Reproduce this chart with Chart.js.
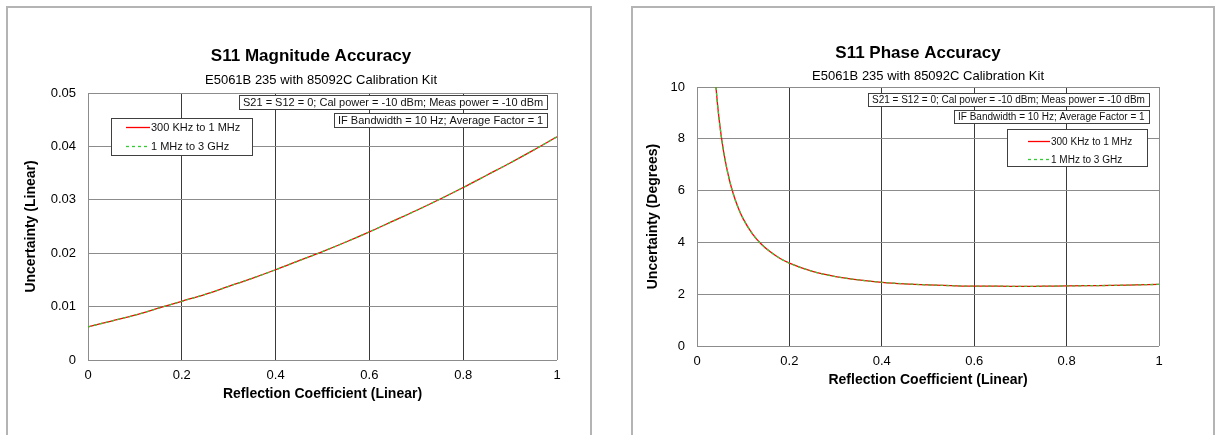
<!DOCTYPE html>
<html>
<head>
<meta charset="utf-8">
<script src="https://cdn.jsdelivr.net/npm/chart.js@4.4.0/dist/chart.umd.min.js"></script>
<style>
    body { margin: 0; background: #fff; overflow: hidden; width: 1217px; height: 435px; position: relative; }
    .panel { position: absolute; top: 6px; height: 440px; border: 2px solid #b4b4b4; box-sizing: border-box; }
    #p1 { left: 6px; width: 586px; }
    #p2 { left: 631px; width: 584px; }
    canvas { position: absolute; top: 0; }
    #chart1 { left: 0; }
    #chart2 { left: 610px; }
</style>
</head>
<body>
<div class="panel" id="p1"></div>
<div class="panel" id="p2"></div>
<canvas id="chart1" width="610" height="435" style="width:610px;height:435px"></canvas>
<canvas id="chart2" width="607" height="435" style="width:607px;height:435px"></canvas>
<script>
// values
const seriesLabels = ['300 KHz to 1 MHz', '1 MHz to 3 GHz'];
const xTicks = [0, 0.2, 0.4, 0.6, 0.8, 1];

const magX = [0, 0.05, 0.1, 0.15, 0.2, 0.25, 0.3, 0.35, 0.4, 0.45, 0.5,
              0.55, 0.6, 0.65, 0.7, 0.75, 0.8, 0.85, 0.9, 0.95, 1];
const magY = [0.0062, 0.0073, 0.0084, 0.0097, 0.0110, 0.0123, 0.0138, 0.0153, 0.0169, 0.0186, 0.0203,
              0.0221, 0.0240, 0.0260, 0.0280, 0.0301, 0.0323, 0.0346, 0.0369, 0.0393, 0.0418];
const magYTicks = [0, 0.01, 0.02, 0.03, 0.04, 0.05];

const phaseX = [0.041, 0.045, 0.05, 0.055, 0.06, 0.07, 0.08, 0.09, 0.1, 0.12, 0.14, 0.16, 0.18, 0.2,
                0.25, 0.3, 0.35, 0.4, 0.45, 0.5, 0.55, 0.6, 0.65, 0.7, 0.75, 0.8, 0.85, 0.9, 0.95, 1];
const phaseY = [10.0, 9.23, 8.44, 7.8, 7.26, 6.42, 5.79, 5.30, 4.91, 4.33, 3.92, 3.62, 3.38, 3.2,
                2.88, 2.68, 2.55, 2.46, 2.40, 2.36, 2.33, 2.31, 2.31, 2.30, 2.31, 2.32, 2.33, 2.34, 2.36, 2.38];
const phaseYTicks = [0, 2, 4, 6, 8, 10];

const subtitleText = 'E5061B 235 with 85092C Calibration Kit';
const noteTexts = ['S21 = S12 = 0; Cal power = -10 dBm; Meas power = -10 dBm',
                   'IF Bandwidth = 10 Hz; Average Factor = 1'];

const FONT = '"Liberation Sans", Arial, sans-serif';

function toPoints(xs, ys) {
    return xs.map((x, i) => ({ x: x, y: ys[i] }));
}

// titles, note boxes and the floating legend
const decoPlugin = {
    id: 'deco',
    afterDraw(chart, args, opts) {
        const c = chart.ctx;
        c.save();
        c.textBaseline = 'middle';
        c.textAlign = 'center';
        c.fillStyle = '#000';
        c.font = 'bold 17px ' + FONT;
        c.fillText(opts.title, opts.titleX, opts.titleY);
        c.font = '13px ' + FONT;
        c.fillText(subtitleText, opts.subX, opts.subY);

        c.font = opts.fontSize + 'px ' + FONT;
        c.textAlign = 'left';
        opts.notes.forEach((n, i) => {
            const w = Math.round(c.measureText(noteTexts[i]).width) + 8;
            const x = opts.noteRight - w;
            c.fillStyle = '#fff';
            c.fillRect(x, n.y, w, n.h);
            c.strokeStyle = '#404040';
            c.lineWidth = 1;
            c.strokeRect(x + 0.5, n.y + 0.5, w, n.h);
            c.fillStyle = '#111';
            c.fillText(noteTexts[i], x + 4, n.y + n.h / 2 + 1);
        });

        const lg = opts.legend;
        c.fillStyle = '#fff';
        c.fillRect(lg.x, lg.y, lg.w, lg.h);
        c.strokeStyle = '#404040';
        c.lineWidth = 1;
        c.strokeRect(lg.x + 0.5, lg.y + 0.5, lg.w, lg.h);
        chart.data.datasets.forEach((ds, i) => {
            const y = lg.rows[i];
            c.strokeStyle = ds.borderColor;
            c.lineWidth = 1.3;
            c.setLineDash(ds.borderDash || []);
            c.beginPath();
            c.moveTo(lg.x0, y + 0.5);
            c.lineTo(lg.x1, y + 0.5);
            c.stroke();
            c.setLineDash([]);
            c.fillStyle = '#111';
            c.fillText(ds.label, lg.x1 + 1, y + 1);
        });
        c.restore();
    }
};

function makeChart(canvasId, xs, ys, yTicks, yTitle, geo, deco) {
    const ctx = document.getElementById(canvasId).getContext('2d');
    const pts = toPoints(xs, ys);
    return new Chart(ctx, {
        type: 'line',
        data: {
            datasets: [{
                label: seriesLabels[0],
                data: pts,
                borderColor: '#ff0000',
                borderWidth: 1.3,
                pointRadius: 0,
                cubicInterpolationMode: 'monotone',
                order: 1
            }, {
                label: seriesLabels[1],
                data: pts,
                borderColor: '#33cc33',
                borderWidth: 1.3,
                borderDash: [3, 3],
                pointRadius: 0,
                cubicInterpolationMode: 'monotone',
                order: 0
            }]
        },
        options: {
            responsive: false,
            animation: false,
            events: [],
            layout: { padding: geo.padding },
            plugins: {
                legend: { display: false },
                tooltip: { enabled: false },
                title: { display: false },
                deco: deco
            },
            scales: {
                x: {
                    type: 'linear',
                    min: xTicks[0],
                    max: xTicks[xTicks.length - 1],
                    afterBuildTicks: s => { s.ticks = xTicks.map(v => ({ value: v })); },
                    afterFit: s => { s.height = geo.xHeight; },
                    border: { display: false },
                    grid: {
                        drawTicks: false,
                        lineWidth: 1,
                        color: c => (c.index === 0 || c.index === xTicks.length - 1) ? '#8c8c8c' : '#3a3a3a'
                    },
                    ticks: {
                        padding: 8, color: '#000', font: { family: FONT, size: 13 },
                        callback: v => String(v)
                    },
                    title: {
                        display: true,
                        text: 'Reflection Coefficient (Linear)',
                        color: '#000',
                        font: { family: FONT, size: 14, weight: 'bold' },
                        padding: { top: 0, bottom: 7 }
                    }
                },
                y: {
                    type: 'linear',
                    min: yTicks[0],
                    max: yTicks[yTicks.length - 1],
                    afterBuildTicks: s => { s.ticks = yTicks.map(v => ({ value: v })); },
                    afterFit: s => { s.width = geo.yWidth; },
                    border: { display: false },
                    grid: { drawTicks: false, lineWidth: 1, color: '#8c8c8c' },
                    ticks: {
                        padding: 12, color: '#000', font: { family: FONT, size: 13 },
                        callback: v => String(v)
                    },
                    title: {
                        display: true,
                        text: yTitle,
                        color: '#000',
                        font: { family: FONT, size: 14, weight: 'bold' },
                        padding: { top: 4, bottom: 0 }
                    }
                }
            }
        },
        plugins: [decoPlugin]
    });
}

makeChart('chart1', magX, magY, magYTicks, 'Uncertainty (Linear)',
    { padding: { left: 19, right: 53, top: 93, bottom: 25 }, yWidth: 69, xHeight: 50 },
    {
        title: 'S11 Magnitude Accuracy', titleX: 311, titleY: 56, subX: 321, subY: 80,
        fontSize: 11, noteRight: 547,
        notes: [{ y: 95, h: 14 }, { y: 113, h: 14 }],
        legend: { x: 111, y: 118, w: 141, h: 37, x0: 126, x1: 150, rows: [127, 146] }
    });

makeChart('chart2', phaseX, phaseY, phaseYTicks, 'Uncertainty (Degrees)',
    { padding: { left: 31, right: 58, top: 87, bottom: 39 }, yWidth: 56, xHeight: 50 },
    {
        title: 'S11 Phase Accuracy', titleX: 308, titleY: 53, subX: 318, subY: 76,
        fontSize: 10, noteRight: 539,
        notes: [{ y: 93, h: 13 }, { y: 110, h: 13 }],
        legend: { x: 397, y: 129, w: 140, h: 37, x0: 418, x1: 440, rows: [141, 159] }
    });
</script>
</body>
</html>
